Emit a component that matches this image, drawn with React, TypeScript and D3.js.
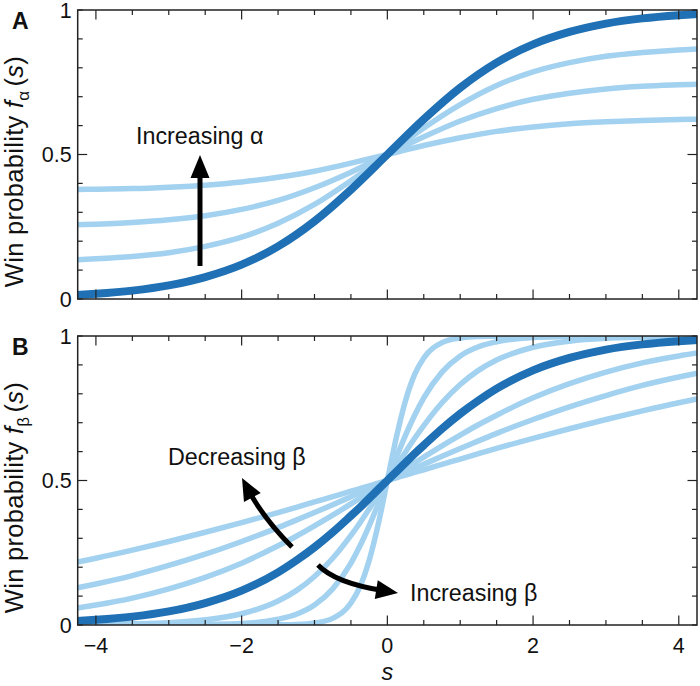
import React from "react";
import * as d3 from "d3";

// panel A: win probability for several alpha (beta = 1)
const sGridA = [-4.25, -4, -3.5, -3, -2.5, -2, -1.5, -1, -0.5, 0, 0.5, 1, 1.5, 2, 2.5, 3, 3.5, 4, 4.25];
const alpha100 = [0.014, 0.018, 0.029, 0.047, 0.076, 0.119, 0.182, 0.269, 0.378, 0.5, 0.622, 0.731, 0.818, 0.881, 0.924, 0.953, 0.971, 0.982, 0.986];
const alpha075 = [0.136, 0.139, 0.147, 0.16, 0.182, 0.214, 0.262, 0.327, 0.409, 0.5, 0.592, 0.673, 0.739, 0.786, 0.818, 0.84, 0.853, 0.862, 0.865];
const alpha050 = [0.257, 0.259, 0.265, 0.274, 0.288, 0.31, 0.341, 0.385, 0.439, 0.5, 0.561, 0.616, 0.659, 0.691, 0.712, 0.727, 0.736, 0.741, 0.743];
const alpha025 = [0.379, 0.38, 0.382, 0.387, 0.394, 0.405, 0.421, 0.442, 0.47, 0.5, 0.531, 0.558, 0.58, 0.595, 0.606, 0.613, 0.618, 0.621, 0.622];

// panel B: win probability for several beta
const sGridB = [-4.25, -4, -3.5, -3, -2.5, -2, -1.5, -1.25, -1, -0.75, -0.5, -0.375, -0.25, -0.125, 0, 0.125, 0.25, 0.375, 0.5, 0.75, 1, 1.25, 1.5, 2, 2.5, 3, 3.5, 4, 4.25];
const beta030 = [0.218, 0.231, 0.259, 0.289, 0.321, 0.354, 0.389, 0.407, 0.426, 0.444, 0.463, 0.472, 0.481, 0.491, 0.5, 0.509, 0.519, 0.528, 0.537, 0.556, 0.574, 0.593, 0.611, 0.646, 0.679, 0.711, 0.741, 0.769, 0.782];
const beta045 = [0.129, 0.142, 0.171, 0.206, 0.245, 0.289, 0.337, 0.363, 0.389, 0.416, 0.444, 0.458, 0.472, 0.486, 0.5, 0.514, 0.528, 0.542, 0.556, 0.584, 0.611, 0.637, 0.663, 0.711, 0.755, 0.794, 0.829, 0.858, 0.871];
const beta065 = [0.059, 0.069, 0.093, 0.125, 0.165, 0.214, 0.274, 0.307, 0.343, 0.38, 0.419, 0.439, 0.459, 0.48, 0.5, 0.52, 0.541, 0.561, 0.581, 0.62, 0.657, 0.693, 0.726, 0.786, 0.835, 0.875, 0.907, 0.931, 0.941];
const beta100 = [0.014, 0.018, 0.029, 0.047, 0.076, 0.119, 0.182, 0.223, 0.269, 0.321, 0.378, 0.407, 0.438, 0.469, 0.5, 0.531, 0.562, 0.593, 0.622, 0.679, 0.731, 0.777, 0.818, 0.881, 0.924, 0.953, 0.971, 0.982, 0.986];
const beta160 = [0.001, 0.002, 0.004, 0.008, 0.018, 0.039, 0.083, 0.119, 0.168, 0.231, 0.31, 0.354, 0.401, 0.45, 0.5, 0.55, 0.599, 0.646, 0.69, 0.769, 0.832, 0.881, 0.917, 0.961, 0.982, 0.992, 0.996, 0.998, 0.999];
const beta260 = [0, 0, 0, 0, 0.002, 0.005, 0.02, 0.037, 0.069, 0.125, 0.214, 0.274, 0.343, 0.419, 0.5, 0.581, 0.657, 0.726, 0.786, 0.875, 0.931, 0.963, 0.98, 0.995, 0.998, 1, 1, 1, 1];
const beta500 = [0, 0, 0, 0, 0, 0, 0.001, 0.002, 0.007, 0.023, 0.076, 0.133, 0.223, 0.349, 0.5, 0.651, 0.777, 0.867, 0.924, 0.977, 0.993, 0.998, 0.999, 1, 1, 1, 1, 1, 1];

const xMajorTicks = [-4, -2, 0, 2, 4];
const xTickLabels = ["\u22124", "\u22122", "0", "2", "4"];
const yMajorTicks = [0, 0.5, 1];
const yTickLabels = ["0", "0.5", "1"];

const LIGHT = "#a3d1f0";
const DARK = "#1f70b4";
const AXIS = "#222";
const FONT = "'Liberation Sans', Arial, sans-serif";

const W = 700;
const H = 686;
const left = 77.7;
const right = 697;
const panelH = 289;

const x = d3.scaleLinear().domain([-4.25, 4.25]).range([left, right]);
const xMinor = d3.range(-4, 4.01, 0.5);
const yMinor = d3.range(0, 1.001, 0.1);

function arrowHead(tip: [number, number], from: [number, number], len = 22, half = 9.5) {
  const dx = tip[0] - from[0];
  const dy = tip[1] - from[1];
  const n = Math.hypot(dx, dy);
  const ux = dx / n;
  const uy = dy / n;
  const bx = tip[0] - ux * len;
  const by = tip[1] - uy * len;
  return `M${tip[0]},${tip[1]}L${bx - uy * half},${by + ux * half}L${bx + uy * half},${by - ux * half}Z`;
}

function CurvedArrow({ p0, c, p2 }: { p0: [number, number]; c: [number, number]; p2: [number, number] }) {
  // stop the shaft a bit before the tip so it sits under the head
  const dx = p2[0] - c[0];
  const dy = p2[1] - c[1];
  const n = Math.hypot(dx, dy);
  const end: [number, number] = [p2[0] - (dx / n) * 14, p2[1] - (dy / n) * 14];
  return (
    <g>
      <path d={`M${p0[0]},${p0[1]}Q${c[0]},${c[1]} ${end[0]},${end[1]}`} fill="none" stroke="#000" strokeWidth={5} />
      <path d={arrowHead(p2, c)} fill="#000" />
    </g>
  );
}

type Curve = { ys: number[]; dark?: boolean };

function Panel({
  top,
  id,
  label,
  grid,
  curves,
  sub,
  showX,
}: {
  top: number;
  id: string;
  label: string;
  grid: number[];
  curves: Curve[];
  sub: string;
  showX: boolean;
}) {
  const bottom = top + panelH;
  const y = d3.scaleLinear().domain([0, 1]).range([bottom, top]);
  const line = d3
    .line<number>()
    .x((_, i) => x(grid[i]))
    .y((d) => y(d))
    .curve(d3.curveMonotoneX);
  const mid = (top + bottom) / 2 + 17;

  return (
    <g>
      <defs>
        <clipPath id={id}>
          <rect x={left} y={top} width={right - left} height={panelH} />
        </clipPath>
      </defs>
      <g clipPath={`url(#${id})`}>
        {curves
          .filter((c) => !c.dark)
          .map((c, i) => (
            <path key={i} d={line(c.ys) ?? ""} fill="none" stroke={LIGHT} strokeWidth={5.5} />
          ))}
        {curves
          .filter((c) => c.dark)
          .map((c, i) => (
            <path key={"d" + i} d={line(c.ys) ?? ""} fill="none" stroke={DARK} strokeWidth={8} />
          ))}
      </g>

      {/* ticks, all four sides pointing inward */}
      <g stroke={AXIS} strokeWidth={1.2}>
        {xMinor.map((t) => {
          const len = xMajorTicks.includes(t) ? 9.5 : 5;
          return (
            <g key={"x" + t}>
              <line x1={x(t)} x2={x(t)} y1={bottom} y2={bottom - len} />
              <line x1={x(t)} x2={x(t)} y1={top} y2={top + len} />
            </g>
          );
        })}
        {yMinor.map((t) => {
          const len = Math.abs(t - 0.5) < 1e-6 ? 9.5 : 5;
          return (
            <g key={"y" + t}>
              <line x1={left} x2={left + len} y1={y(t)} y2={y(t)} />
              <line x1={right} x2={right - len} y1={y(t)} y2={y(t)} />
            </g>
          );
        })}
      </g>
      <rect x={left} y={top} width={right - left} height={panelH} fill="none" stroke={AXIS} strokeWidth={1.5} />

      {yMajorTicks.map((t, i) => (
        <text key={t} x={left - 6} y={y(t) + 7.7} textAnchor="end" fontSize={21.5} fill="#111">
          {yTickLabels[i]}
        </text>
      ))}
      {showX &&
        xMajorTicks.map((t, i) => (
          <text key={t} x={x(t)} y={bottom + 28} textAnchor="middle" fontSize={21.5} fill="#111">
            {xTickLabels[i]}
          </text>
        ))}

      <text x={12} y={top + 19} fontSize={23} fontWeight="bold" fill="#111">
        {label}
      </text>

      <text
        transform={`translate(23,${mid}) rotate(-90)`}
        textAnchor="middle"
        fontSize={25.5}
        letterSpacing={0.3}
        fill="#111"
      >
        Win probability{" "}
        <tspan fontStyle="italic">f</tspan>
        <tspan fontSize={17} dy={6}>
          {sub}
        </tspan>
        <tspan dy={-6} dx={4}>
          (
        </tspan>
        <tspan fontStyle="italic">s</tspan>)
      </text>
    </g>
  );
}

export default function App() {
  const topA = 10;
  const topB = 336;
  return (
    <div style={{ position: "absolute", left: 0, top: 0, width: W, height: H, background: "#fff" }}>
      <svg width={W} height={H} style={{ display: "block", fontFamily: FONT }}>
        <rect width={W} height={H} fill="#fff" />
        <Panel
          top={topA}
          id="clipA"
          label="A"
          grid={sGridA}
          sub="α"
          showX={false}
          curves={[{ ys: alpha025 }, { ys: alpha050 }, { ys: alpha075 }, { ys: alpha100, dark: true }]}
        />
        <Panel
          top={topB}
          id="clipB"
          label="B"
          grid={sGridB}
          sub="β"
          showX={true}
          curves={[
            { ys: beta030 },
            { ys: beta045 },
            { ys: beta065 },
            { ys: beta160 },
            { ys: beta260 },
            { ys: beta500 },
            { ys: beta100, dark: true },
          ]}
        />

        {/* panel A annotation */}
        <text x={136} y={144} fontSize={23.3} fill="#111">
          Increasing α
        </text>
        <line x1={200} x2={200} y1={266} y2={172} stroke="#000" strokeWidth={5} />
        <path d={arrowHead([200, 155], [200, 266], 23, 9.5)} fill="#000" />

        {/* panel B annotations */}
        <text x={168} y={465} fontSize={23.3} fill="#111">
          Decreasing β
        </text>
        <CurvedArrow p0={[292, 547]} c={[263.7, 518.7]} p2={[242, 478]} />
        <text x={410} y={601} fontSize={23.3} fill="#111">
          Increasing β
        </text>
        <CurvedArrow p0={[318, 565]} c={[335, 583]} p2={[398, 593]} />

        <text x={x(0)} y={680} textAnchor="middle" fontSize={23.5} fontStyle="italic" fill="#111">
          s
        </text>
      </svg>
    </div>
  );
}
